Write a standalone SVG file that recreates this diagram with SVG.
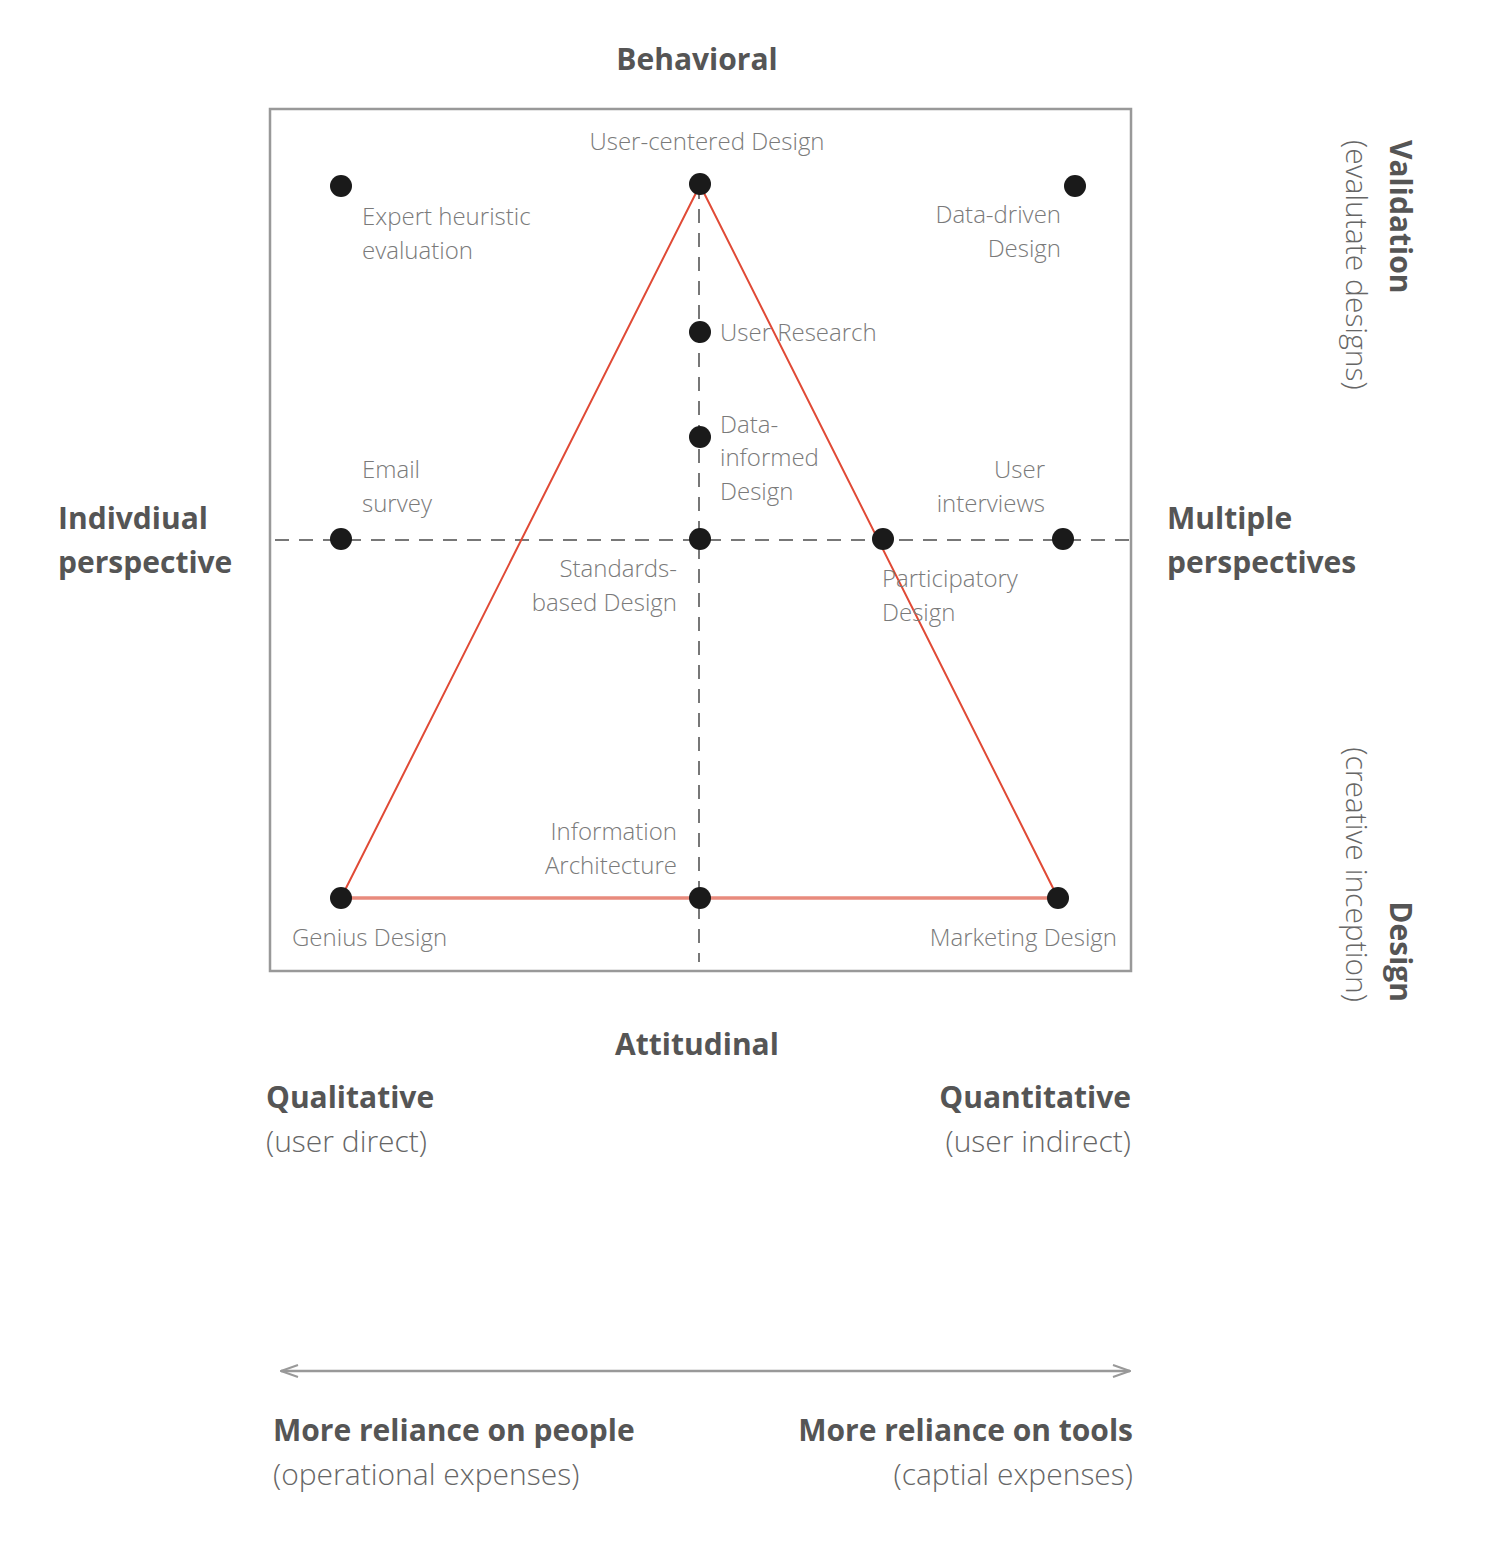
<svg xmlns="http://www.w3.org/2000/svg" width="1486" height="1552" viewBox="0 0 1486 1552">
<style>
.l{font-family:"Open Sans","Liberation Sans",sans-serif;font-size:24px;fill:#7a7a7a;font-weight:300}
.h{font-family:"Open Sans","Liberation Sans",sans-serif;font-size:30px;fill:#555;font-weight:700}
.s{font-family:"Open Sans","Liberation Sans",sans-serif;font-size:30px;fill:#666;font-weight:300}
.d{fill:#1a1a1a}
.dash{stroke:#777;stroke-width:2;stroke-dasharray:14 10;fill:none}
</style>
<defs><marker id="ah" viewBox="0 0 20 16" refX="19" refY="8" markerWidth="20" markerHeight="16" markerUnits="userSpaceOnUse" orient="auto-start-reverse"><path d="M2 2 L19 8 L2 14" fill="none" stroke="#999" stroke-width="2"/></marker></defs>
<rect x="270" y="109" width="861" height="862" fill="none" stroke="#999" stroke-width="2.5"/>
<g id="connectors">
<line class="dash" x1="699" y1="185" x2="699" y2="962"/>
<line class="dash" x1="275" y1="540" x2="1131" y2="540"/>
<polyline points="341,898 700,185 1058,898" fill="none" stroke="#e04a36" stroke-width="2"/>
<line x1="341" y1="898" x2="1058" y2="898" stroke="#e88a7c" stroke-width="3.5"/>
<line x1="281" y1="1371" x2="1130" y2="1371" stroke="#999" stroke-width="2.5" marker-start="url(#ah)" marker-end="url(#ah)"/>
</g>
<g id="n1"><circle class="d" cx="341" cy="186" r="11"/><text class="l" x="362" y="225">Expert heuristic</text><text class="l" x="362" y="259">evaluation</text></g>
<g id="n2"><circle class="d" cx="700" cy="184" r="11"/><text class="l" x="707" y="150" text-anchor="middle">User-centered Design</text></g>
<g id="n3"><circle class="d" cx="1075" cy="186" r="11"/><text class="l" x="1061" y="223" text-anchor="end">Data-driven</text><text class="l" x="1061" y="257" text-anchor="end">Design</text></g>
<g id="n4"><circle class="d" cx="700" cy="332" r="11"/><text class="l" x="720" y="341">User Research</text></g>
<g id="n5"><circle class="d" cx="700" cy="437" r="11"/><text class="l" x="720" y="433">Data-</text><text class="l" x="720" y="466">informed</text><text class="l" x="720" y="500">Design</text></g>
<g id="n6"><circle class="d" cx="341" cy="539" r="11"/><text class="l" x="362" y="478">Email</text><text class="l" x="362" y="512">survey</text></g>
<g id="n7"><circle class="d" cx="700" cy="539" r="11"/><text class="l" x="677" y="577" text-anchor="end">Standards-</text><text class="l" x="677" y="611" text-anchor="end">based Design</text></g>
<g id="n8"><circle class="d" cx="883" cy="539" r="11"/><text class="l" x="882" y="587">Participatory</text><text class="l" x="882" y="621">Design</text></g>
<g id="n9"><circle class="d" cx="1063" cy="539" r="11"/><text class="l" x="1045" y="478" text-anchor="end">User</text><text class="l" x="1045" y="512" text-anchor="end">interviews</text></g>
<g id="n10"><circle class="d" cx="341" cy="898" r="11"/><text class="l" x="292" y="946">Genius Design</text></g>
<g id="n11"><circle class="d" cx="700" cy="898" r="11"/><text class="l" x="677" y="840" text-anchor="end">Information</text><text class="l" x="677" y="874" text-anchor="end">Architecture</text></g>
<g id="n12"><circle class="d" cx="1058" cy="898" r="11"/><text class="l" x="1117" y="946" text-anchor="end">Marketing Design</text></g>
<text class="h" x="697" y="70" text-anchor="middle">Behavioral</text>
<text class="h" x="697" y="1055" text-anchor="middle">Attitudinal</text>
<text class="h" x="58" y="529">Indivdiual</text><text class="h" x="58" y="573">perspective</text>
<text class="h" x="1167" y="529">Multiple</text><text class="h" x="1167" y="573">perspectives</text>
<text class="h" x="266" y="1108">Qualitative</text><text class="s" x="266" y="1152">(user direct)</text>
<text class="h" x="1131" y="1108" text-anchor="end">Quantitative</text><text class="s" x="1131" y="1152" text-anchor="end">(user indirect)</text>
<text class="h" x="273" y="1441">More reliance on people</text><text class="s" x="273" y="1485">(operational expenses)</text>
<text class="h" x="1133" y="1441" text-anchor="end">More reliance on tools</text><text class="s" x="1133" y="1485" text-anchor="end">(captial expenses)</text>
<g transform="translate(1390,140) rotate(90)"><text class="h" x="0" y="0">Validation</text><text class="s" x="0" y="44">(evalutate designs)</text></g>
<g transform="translate(1390,1002) rotate(90)"><text class="h" x="0" y="0" text-anchor="end">Design</text><text class="s" x="0" y="44" text-anchor="end">(creative inception)</text></g>
</svg>
